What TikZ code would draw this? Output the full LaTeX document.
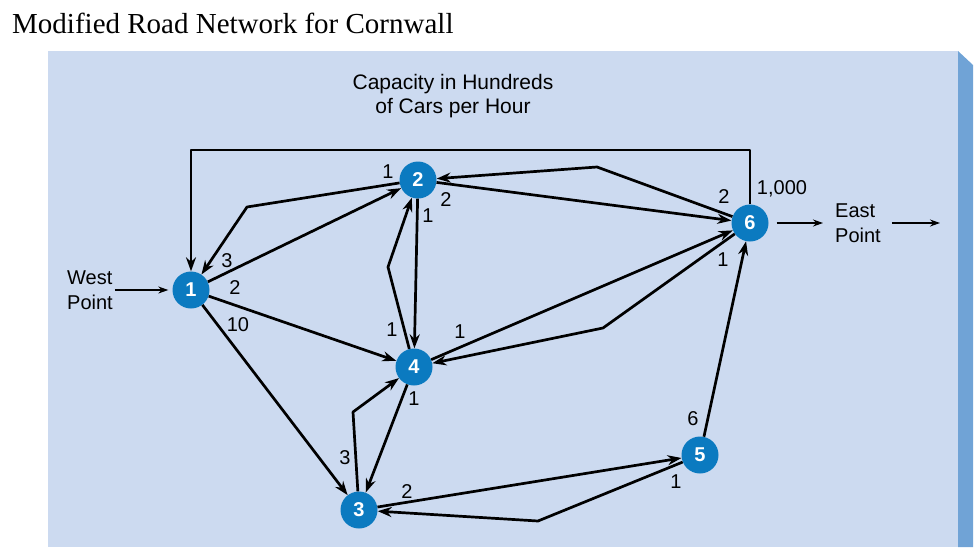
\documentclass[tikz,border=0pt]{standalone}
\usepackage{fontspec}
\setmainfont{Liberation Serif}
\newfontfamily\arialfont{Liberation Sans}
\usetikzlibrary{arrows.meta}
\definecolor{panelblue}{HTML}{CCDAF0}
\definecolor{sideblue}{HTML}{70A3D6}
\definecolor{townblue}{HTML}{0B7AC0}
\tikzset{
	town/.style={circle, fill=townblue, inner sep=0pt, minimum size=37pt, text=white, font=\arialfont\bfseries\fontsize{20}{20}\selectfont},
	road/.style={line width=2.7pt, ->},
	io/.style={line width=1.2pt, -{Stealth[length=10pt,width=7pt]}},
	txt/.style={font=\arialfont\fontsize{20}{25}\selectfont, inner sep=2pt}
}
\begin{document}
\begin{tikzpicture}[x=1pt, y=-1pt, >={Stealth[length=14pt,width=10pt]}, line join=round]
	\useasboundingbox (0,0) rectangle (980,547);
	\fill[panelblue] (48,51) rectangle (958,547);
	\fill[sideblue] (958,51) -- (973,65) -- (973,547) -- (958,547) -- cycle;
	\node[anchor=base west, inner sep=0pt, font=\fontsize{29}{30}\selectfont] (title) at (12,33) {Modified Road Network for Cornwall};
	\node[txt, align=center, font=\arialfont\fontsize{21}{24}\selectfont] (legend) at (453,96) {Capacity in Hundreds\\of Cars per Hour};
	% Các nút
	\node[town] (1) at (191,290) {1};
	\node[town] (2) at (418,180) {2};
	\node[town] (3) at (359,510) {3};
	\node[town] (4) at (414,367) {4};
	\node[town] (5) at (700,455) {5};
	\node[town] (6) at (750,223) {6};
	\node[txt, align=left, anchor=west] (west) at (65,290) {West\\Point};
	\node[txt, align=left, anchor=west] (east) at (833,223) {East\\Point};
	\coordinate (exit) at (940,223);
	\coordinate (top) at (470,150);
	\coordinate (b21) at (247,207);
	\coordinate (b62) at (597,167);
	\coordinate (b42) at (388,267);
	\coordinate (b64) at (603,328);
	\coordinate (b34) at (353,412);
	\coordinate (b53) at (538,521);
	\draw[io, shorten >=4pt] (west) -- (1);
	\draw[io, shorten <=8pt, shorten >=10pt] (6) -- (east);
	\draw[io, shorten <=9pt] (east) -- (exit);
	\draw[road] (1) -- (2);
	\draw[road] (2) -- (b21) -- (1);
	\draw[road] (6) |- (top) -| (1);
	\draw[road] (1) -- (4);
	\draw[road] (1) -- (3);
	\draw[road] (2) -- (6);
	\draw[road] (6) -- (b62) -- (2);
	\draw[road] (2) -- (4);
	\draw[road] (4) -- (b42) -- (2);
	\draw[road] (4) -- (6);
	\draw[road] (6) -- (b64) -- (4);
	\draw[road] (4) -- (3);
	\draw[road] (3) -- (b34) -- (4);
	\draw[road] (3) -- (5);
	\draw[road] (5) -- (b53) -- (3);
	\draw[road] (5) -- (6);
	% Sức chứa
	\foreach \x/\y/\t [count=\i] in {388/172/1, 446/200/2, 428/216/1, 227/261/3, 235/288/2, 238/325/10, 392/330/1, 460/332/1, 414/399/1, 345/458/3, 407/492/2, 676/482/1, 693/419/6, 724/197/2, 782/189/{1,000}, 723/260/1}
		\node[txt] (cap\i) at (\x,\y) {\t};
\end{tikzpicture}
\end{document}
